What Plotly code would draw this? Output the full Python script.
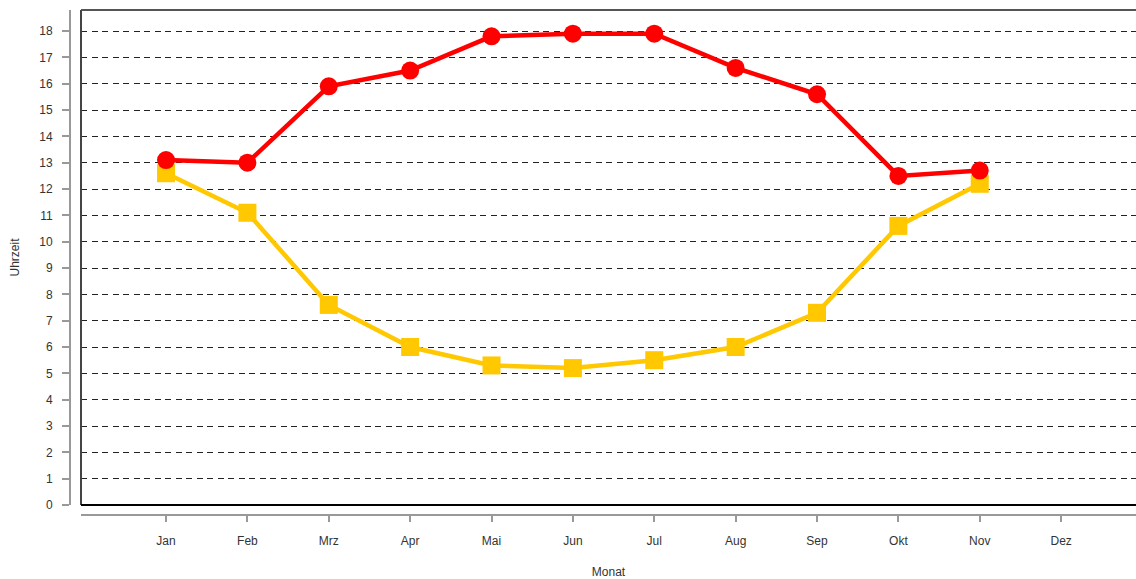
import plotly.graph_objects as go

months = ["Jan", "Feb", "Mrz", "Apr", "Mai", "Jun", "Jul", "Aug", "Sep", "Okt", "Nov", "Dez"]
sunset = [13.1, 13.0, 15.9, 16.5, 17.8, 17.9, 17.9, 16.6, 15.6, 12.5, 12.7, None]
sunrise = [12.6, 11.1, 7.6, 6.0, 5.3, 5.2, 5.5, 6.0, 7.3, 10.6, 12.2, None]
yticks = list(range(0, 19))

W, H = 1136, 579
ml, mr, mt, mb = 70, 0, 10, 64
pw = W - ml - mr
ph = H - mt - mb

fig = go.Figure()
fig.add_trace(go.Scatter(
    x=months, y=sunrise, mode="lines+markers",
    line=dict(color="#FFC800", width=4.5),
    marker=dict(symbol="square", size=18, color="#FFC800"),
    showlegend=False, cliponaxis=False,
))
fig.add_trace(go.Scatter(
    x=months, y=sunset, mode="lines+markers",
    line=dict(color="#FF0000", width=4.5),
    marker=dict(symbol="circle", size=18, color="#FF0000"),
    showlegend=False, cliponaxis=False,
))

axis_font = dict(family="Liberation Sans, Arial, sans-serif", size=12, color="#333333")

fig.update_layout(
    width=W, height=H,
    margin=dict(l=ml, r=mr, t=mt, b=mb, pad=0, autoexpand=False),
    paper_bgcolor="white", plot_bgcolor="white",
    font=axis_font,
    hovermode=False,
    xaxis=dict(
        type="category",
        domain=[11 / pw, 1],
        range=[-1.045, 11.92],
        anchor="free", position=0,
        automargin=False,
        showline=True, linecolor="#999999", linewidth=2,
        ticks="outside", ticklen=6, tickcolor="#999999", tickwidth=2,
        ticklabelstandoff=9,
        showgrid=False, zeroline=False,
        tickfont=axis_font,
        title=dict(text="Monat", font=axis_font, standoff=22),
    ),
    yaxis=dict(
        domain=[10 / ph, 1],
        range=[0, 18.8],
        anchor="free", position=0,
        automargin=False,
        tickvals=yticks,
        showline=True, linecolor="#999999", linewidth=2,
        ticks="outside", ticklen=7, tickcolor="#999999", tickwidth=2,
        ticklabelstandoff=7,
        showgrid=True, gridcolor="#222222", gridwidth=1, griddash="6px,4.5px",
        zeroline=False,
        tickfont=axis_font,
        title=dict(text="Uhrzeit", font=axis_font, standoff=16),
    ),
    shapes=[
        dict(type="line", xref="x domain", yref="y domain", x0=0, x1=0, y0=0, y1=1,
             line=dict(color="#444444", width=2)),
        dict(type="line", xref="x domain", yref="y domain", x0=0, x1=1, y0=1, y1=1,
             line=dict(color="#555555", width=2)),
        dict(type="line", xref="x domain", yref="y domain", x0=0, x1=1, y0=0, y1=0,
             line=dict(color="#000000", width=2)),
    ],
)

fig.write_html(
    "out.html",
    config={"displayModeBar": False, "staticPlot": True},
    post_script="document.body.style.margin='0';document.body.style.overflow='hidden';",
)
